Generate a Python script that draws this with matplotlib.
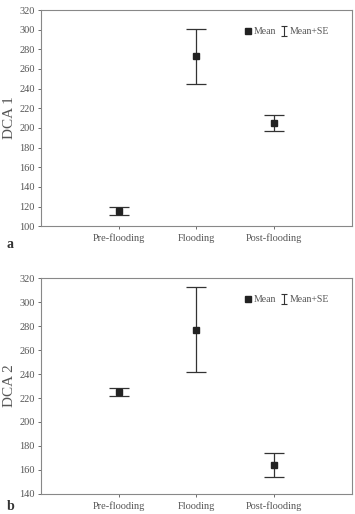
import matplotlib
matplotlib.use("Agg")
import matplotlib.pyplot as plt
from matplotlib.lines import Line2D

plt.rcParams['font.family'] = ['Liberation Serif', 'DejaVu Serif']

# data
periods = ['Pre-flooding', 'Flooding', 'Post-flooding']
dca1_mean = [115, 273, 205]
dca1_se = [4, 28, 8]
dca2_mean = [225, 277, 164]
dca2_se = [3.5, 35.5, 10]

grey = '#555555'
fig = plt.figure(figsize=(3.55, 5.14), dpi=100)
ax1 = fig.add_axes([0.1155, 0.560, 0.876, 0.4205])
ax2 = fig.add_axes([0.1155, 0.039, 0.876, 0.420])

panels = [
    (ax1, dca1_mean, dca1_se, 'DCA 1', (100, 320), 'a', -0.085),
    (ax2, dca2_mean, dca2_se, 'DCA 2', (140, 320), 'b', -0.058),
]

for ax, mean, se, ylab, ylim, tag, tag_y in panels:
    xs = range(1, len(periods) + 1)
    ax.errorbar(xs, mean, yerr=se, fmt='s', color='#222222', ms=5,
                ecolor='#333333', elinewidth=0.9, capsize=7, capthick=0.9)
    ax.set_xlim(0, 4)
    ax.set_ylim(*ylim)
    ax.set_yticks(range(ylim[0], 321, 20))
    ax.set_xticks(list(xs))
    ax.set_xticklabels(periods)
    ax.set_ylabel(ylab, fontsize=11, color=grey, labelpad=2)
    ax.tick_params(axis='both', labelsize=7.5, colors=grey, length=2.5, width=0.6, pad=2)
    # baseline alignment so the tall 'f' doesn't shift labels
    ax.tick_params(axis='x', pad=8.5)
    for lab in ax.get_xticklabels():
        lab.set_verticalalignment('baseline')
    for sp in ax.spines.values():
        sp.set_color('#888888')
        sp.set_linewidth(0.8)
    # legend handles: a lone square and a lone error bar
    h_mean = Line2D([], [], marker='s', ls='none', color='#222222', ms=4.5)
    h_se = ax.errorbar([float('nan')], [float('nan')], yerr=[1], fmt='none',
                       ecolor='#333333', elinewidth=0.8, capsize=2.5, capthick=0.8)
    ax.legend([h_mean, h_se], ['Mean', 'Mean+SE'], loc='upper right',
              bbox_to_anchor=(0.955, 0.96), ncol=2, frameon=False,
              fontsize=7, handlelength=0.8, handletextpad=0.2,
              columnspacing=0.4, labelcolor=grey)
    ax.text(-0.11, tag_y, tag, transform=ax.transAxes, fontsize=10,
            fontweight='bold', color='#333333', va='center')

fig.savefig('out.png', dpi=100)
